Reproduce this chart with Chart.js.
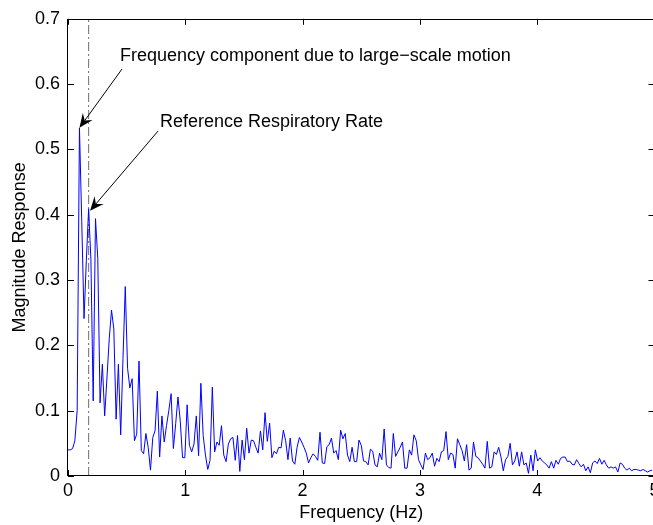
<!DOCTYPE html>
<html lang="en">
<head>
    <meta charset="UTF-8">
    <title>Magnitude Response</title>
    <script src="https://cdn.jsdelivr.net/npm/chart.js"></script>
    <style>
        html, body { margin: 0; padding: 0; overflow: hidden; background: #fff; }
        #wrap { position: relative; width: 653px; height: 525px; overflow: hidden; }
        #wrap canvas { position: absolute; left: 0; top: 0; }
    </style>
</head>
<body>

<div id="wrap">
    <canvas id="spectrum" width="670" height="525"></canvas>
</div>

<script>
    // FFT bin spacing (Hz) and magnitudes
    const binWidth = 5 / 256;
    const magnitude = [
        0.040, 0.040, 0.042, 0.054, 0.100, 0.533, 0.390, 0.241, 0.330, 0.409,
        0.331, 0.115, 0.394, 0.333, 0.112, 0.171, 0.092, 0.150, 0.210, 0.254,
        0.225, 0.087, 0.171, 0.063, 0.180, 0.290, 0.165, 0.135, 0.149, 0.054,
        0.064, 0.176, 0.039, 0.034, 0.065, 0.044, 0.009, 0.059, 0.069, 0.130,
        0.029, 0.092, 0.052, 0.077, 0.100, 0.126, 0.042, 0.080, 0.121, 0.084,
        0.028, 0.028, 0.109, 0.047, 0.037, 0.049, 0.092, 0.031, 0.142, 0.062,
        0.032, 0.010, 0.024, 0.136, 0.037, 0.052, 0.047, 0.077, 0.032, 0.022,
        0.049, 0.057, 0.059, 0.024, 0.062, 0.007, 0.055, 0.025, 0.073, 0.035,
        0.055, 0.054, 0.044, 0.035, 0.069, 0.040, 0.097, 0.053, 0.081, 0.028,
        0.038, 0.034, 0.044, 0.043, 0.070, 0.054, 0.025, 0.058, 0.023, 0.018,
        0.044, 0.059, 0.052, 0.044, 0.035, 0.020, 0.028, 0.034, 0.030, 0.024,
        0.067, 0.020, 0.019, 0.045, 0.048, 0.058, 0.035, 0.039, 0.025, 0.070,
        0.057, 0.065, 0.032, 0.022, 0.044, 0.022, 0.022, 0.055, 0.047, 0.023,
        0.022, 0.017, 0.041, 0.038, 0.017, 0.014, 0.035, 0.025, 0.072, 0.017,
        0.013, 0.012, 0.065, 0.030, 0.037, 0.044, 0.052, 0.012, 0.012, 0.040,
        0.032, 0.063, 0.054, 0.025, 0.017, 0.010, 0.035, 0.025, 0.028, 0.035,
        0.015, 0.027, 0.022, 0.037, 0.039, 0.068, 0.025, 0.035, 0.033, 0.012,
        0.057, 0.048, 0.039, 0.023, 0.048, 0.009, 0.012, 0.052, 0.030, 0.028,
        0.023, 0.018, 0.012, 0.053, 0.012, 0.014, 0.037, 0.033, 0.044, 0.029,
        0.008, 0.025, 0.030, 0.050, 0.017, 0.023, 0.037, 0.015, 0.037, 0.017,
        0.020, 0.004, 0.032, 0.008, 0.040, 0.023, 0.028, 0.023, 0.020, 0.017,
        0.012, 0.022, 0.012, 0.024, 0.018, 0.027, 0.029, 0.029, 0.022, 0.023,
        0.018, 0.017, 0.025, 0.019, 0.014, 0.018, 0.008, 0.014, 0.005, 0.020,
        0.023, 0.019, 0.027, 0.018, 0.024, 0.017, 0.012, 0.014, 0.012, 0.014,
        0.006, 0.020, 0.018, 0.012, 0.009, 0.012, 0.008, 0.010, 0.010, 0.009,
        0.008, 0.010, 0.008, 0.006, 0.008, 0.009
    ];
    const refFreq = 0.176;           // dash-dot marker
    const xTicks = [0, 1, 2, 3, 4, 5];
    const yTicks = [0, 0.1, 0.2, 0.3, 0.4, 0.5, 0.6, 0.7];

    const FONT = 'Liberation Sans, Arial, Helvetica, sans-serif';

    // text + arrow, in data units (tip = the peak it points at)
    const notes = [
        { text: 'Frequency component due to large\u2212scale motion',
          label: [0.443, 0.6425], tail: [0.46, 0.623], tip: [5 * binWidth, 0.533] },
        { text: 'Reference Respiratory Rate',
          label: [0.784, 0.5415], tail: [0.767, 0.528], tip: [0.188, 0.406] }
    ];

    function drawArrow(ctx, x1, y1, x2, y2) {
        const ang = Math.atan2(y2 - y1, x2 - x1);
        const len = 14, half = 6, notch = 9;
        const c = Math.cos(ang), s = Math.sin(ang);
        ctx.beginPath();
        ctx.moveTo(x1, y1);
        ctx.lineTo(x2 - c * notch, y2 - s * notch);
        ctx.stroke();
        const bx = x2 - c * len, by = y2 - s * len;
        ctx.beginPath();
        ctx.moveTo(x2, y2);
        ctx.lineTo(bx - s * half, by + c * half);
        ctx.lineTo(x2 - c * notch, y2 - s * notch);
        ctx.lineTo(bx + s * half, by - c * half);
        ctx.closePath();
        ctx.fill();
    }

    // MATLAB-style box with inward ticks, plus the annotations
    const matlabFrame = {
        id: 'matlabFrame',
        afterDraw(chart) {
            const { ctx, chartArea: a, scales: { x, y } } = chart;
            const tl = 6;
            ctx.save();
            ctx.strokeStyle = '#000';
            ctx.fillStyle = '#000';
            ctx.lineWidth = 1;
            ctx.strokeRect(Math.round(a.left) - 0.5, Math.round(a.top) + 0.5,
                Math.round(a.right - a.left), Math.round(a.bottom - a.top) - 1);
            ctx.beginPath();
            xTicks.forEach(v => {
                const px = Math.round(x.getPixelForValue(v)) + 0.5;
                ctx.moveTo(px, a.bottom); ctx.lineTo(px, a.bottom - tl);
                ctx.moveTo(px, a.top); ctx.lineTo(px, a.top + tl);
            });
            yTicks.forEach(v => {
                const py = Math.round(y.getPixelForValue(v)) + 0.5;
                ctx.moveTo(a.left, py); ctx.lineTo(a.left + tl, py);
                ctx.moveTo(a.right, py); ctx.lineTo(a.right - tl, py);
            });
            ctx.stroke();

            ctx.font = '18px ' + FONT;
            ctx.textBaseline = 'middle';
            ctx.textAlign = 'left';
            notes.forEach(n => {
                ctx.fillText(n.text, x.getPixelForValue(n.label[0]), y.getPixelForValue(n.label[1]));
                drawArrow(ctx,
                    x.getPixelForValue(n.tail[0]), y.getPixelForValue(n.tail[1]),
                    x.getPixelForValue(n.tip[0]), y.getPixelForValue(n.tip[1]));
            });
            ctx.restore();
        }
    };

    const tickFont = { family: FONT, size: 18 };

    new Chart(document.getElementById('spectrum'), {
        type: 'line',
        data: {
            datasets: [
                {
                    data: magnitude.map((m, i) => ({ x: i * binWidth, y: m })),
                    borderColor: '#0000ff',
                    borderWidth: 1,
                    pointRadius: 0,
                    tension: 0,
                    order: 0
                },
                {
                    data: [{ x: refFreq, y: yTicks[0] }, { x: refFreq, y: yTicks[yTicks.length - 1] }],
                    borderColor: '#6e6e6e',
                    borderWidth: 1,
                    borderDash: [9, 3, 2, 3],
                    pointRadius: 0,
                    order: 1
                }
            ]
        },
        options: {
            responsive: false,
            animation: false,
            layout: { padding: { top: 12, right: 15.5, left: 0, bottom: 0 } },
            plugins: {
                legend: { display: false },
                tooltip: { enabled: false }
            },
            scales: {
                x: {
                    type: 'linear',
                    min: 0,
                    max: 5,
                    afterFit: s => { s.height = 49; },
                    afterBuildTicks: s => { s.ticks = xTicks.map(v => ({ value: v })); },
                    grid: { display: false, drawTicks: false },
                    border: { display: false },
                    ticks: { color: '#000', font: tickFont, padding: 4, autoSkip: false, maxRotation: 0 },
                    title: { display: true, text: 'Frequency (Hz)', color: '#000',
                             font: tickFont, padding: { top: 0, bottom: 1 } }
                },
                y: {
                    type: 'linear',
                    min: 0,
                    max: 0.7,
                    afterFit: s => { s.width = 68; },
                    afterBuildTicks: s => { s.ticks = yTicks.map(v => ({ value: v })); },
                    grid: { display: false, drawTicks: false },
                    border: { display: false },
                    ticks: { color: '#000', font: tickFont, padding: 8, autoSkip: false,
                             callback: v => String(+v.toFixed(1)) },
                    title: { display: true, text: 'Magnitude Response', color: '#000',
                             font: tickFont, padding: { top: 9, bottom: 0 } }
                }
            }
        },
        plugins: [matlabFrame]
    });
</script>

</body>
</html>
